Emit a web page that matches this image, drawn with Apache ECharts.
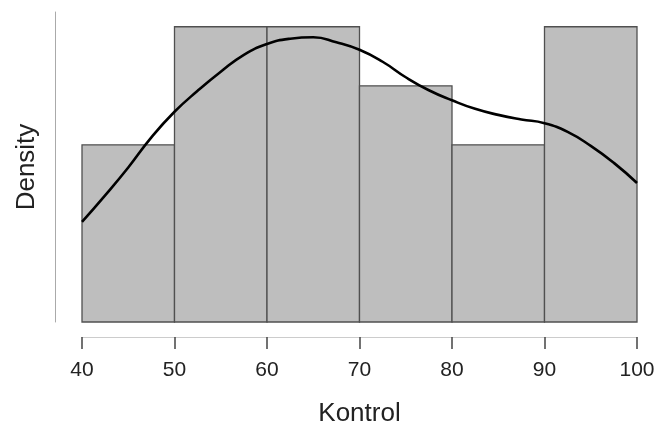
<!DOCTYPE html>
<html>
<head>
<meta charset="utf-8">
<script src="https://cdn.jsdelivr.net/npm/echarts@6/dist/echarts.min.js"></script>
<style>html,body{margin:0;padding:0;background:#fff;}#c{width:659px;height:425px;}</style>
</head>
<body>
<div id="c"></div>
<script>
// Histogram bins (Kontrol) and density values
var binStarts = [40, 50, 60, 70, 80, 90];
var binWidth = 10;
var binDensity = [0.012, 0.020, 0.020, 0.016, 0.012, 0.020];

// Kernel density curve
var curveX = [40, 42.5, 45, 47.5, 50, 52.5, 55, 57.5, 60, 62.5, 65, 67.5, 70, 72.5, 75, 77.5, 80, 82.5, 85, 87.5, 90, 92.5, 95, 97.5, 100];
var curveY = [0.00678, 0.00858, 0.01047, 0.01251, 0.01424, 0.01566, 0.01695, 0.01810, 0.01883, 0.01919, 0.01929, 0.01895, 0.01844, 0.01763, 0.01658, 0.01570, 0.01502, 0.01444, 0.01403, 0.01372, 0.01347, 0.01288, 0.01193, 0.01078, 0.00942];

var xTicks = [40, 50, 60, 70, 80, 90, 100];

var barData = binStarts.map(function (s, i) { return [s, s + binWidth, binDensity[i]]; });
var lineData = curveX.map(function (x, i) { return [x, curveY[i]]; });

var chart = echarts.init(document.getElementById('c'));
chart.setOption({
  animation: false,
  backgroundColor: '#fff',
  grid: { left: 82, right: 22, top: 12, bottom: 103, containLabel: false, outerBoundsMode: 'none' },
  xAxis: {
    type: 'value',
    min: xTicks[0], max: xTicks[xTicks.length - 1], interval: 10,
    offset: 15,
    name: 'Kontrol', nameLocation: 'middle', nameGap: 64,
    nameTextStyle: { fontSize: 26, color: '#222', fontFamily: 'Liberation Sans, Arial, sans-serif' },
    axisLine: { show: true, onZero: false, lineStyle: { color: '#cccccc', width: 1 } },
    axisTick: { show: true, length: 12, lineStyle: { color: '#444', width: 1.5 } },
    axisLabel: { fontSize: 21, color: '#222', margin: 23, fontFamily: 'Liberation Sans, Arial, sans-serif' },
    splitLine: { show: false }
  },
  yAxis: {
    type: 'value',
    min: 0, max: 0.021,
    offset: 27,
    name: 'Density', nameLocation: 'middle', nameGap: 15, nameRotate: 90,
    nameTextStyle: { fontSize: 26, color: '#222', fontFamily: 'Liberation Sans, Arial, sans-serif' },
    axisLine: { show: true, onZero: false, lineStyle: { color: '#aaaaaa', width: 1 } },
    axisTick: { show: false },
    axisLabel: { show: false },
    splitLine: { show: false }
  },
  series: [
    {
      type: 'custom',
      data: barData,
      encode: { x: [0, 1], y: 2 },
      renderItem: function (params, api) {
        var p0 = api.coord([api.value(0), api.value(2)]);
        var p1 = api.coord([api.value(1), 0]);
        return {
          type: 'rect',
          shape: { x: p0[0], y: p0[1], width: p1[0] - p0[0], height: p1[1] - p0[1] },
          style: { fill: '#bebebe', stroke: '#505050', lineWidth: 1.3 }
        };
      },
      z: 1
    },
    {
      type: 'line',
      data: lineData,
      smooth: true,
      symbol: 'none',
      lineStyle: { color: '#000', width: 2.6 },
      z: 3
    }
  ]
});
</script>
</body>
</html>
